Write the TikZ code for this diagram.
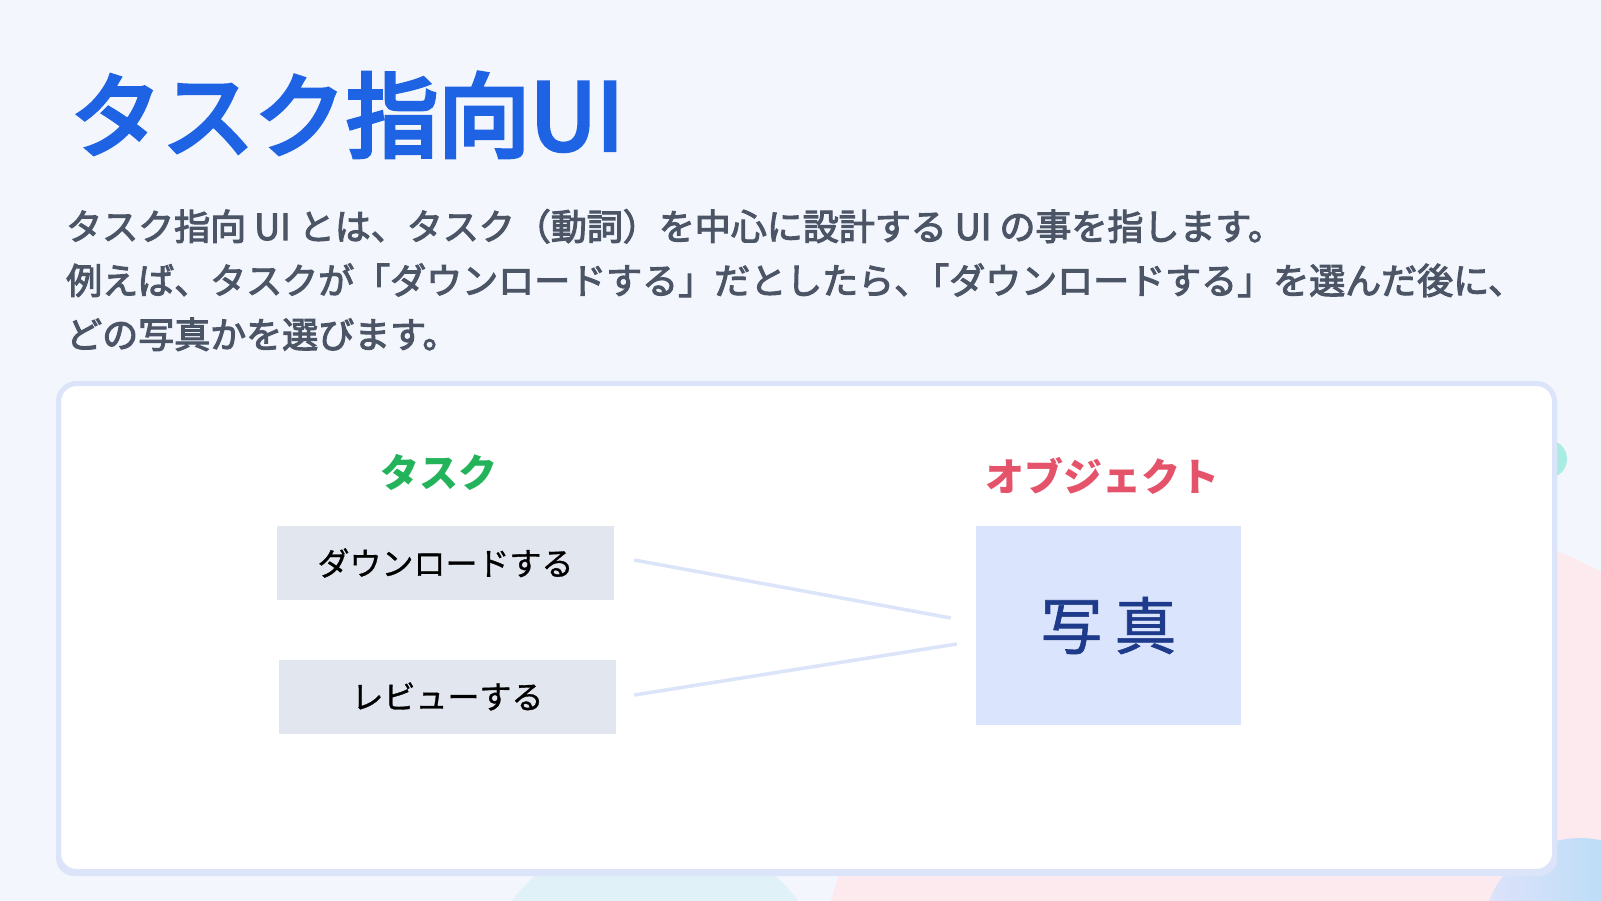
\documentclass[tikz,border=0pt]{standalone}
\usepackage{fontspec}
\newfontfamily\jp{Noto Sans CJK JP}
\newfontfamily\jptitle[FakeBold=4.5]{Noto Sans CJK JP}
\newfontfamily\jpmed[FakeBold=3]{Noto Sans CJK JP}
\newfontfamily\jplight[FakeBold=1]{Noto Sans CJK JP}
\usetikzlibrary{positioning}
\definecolor{bgc}{HTML}{F3F6FC}
\definecolor{titleblue}{HTML}{1D63E3}
\definecolor{bodygray}{HTML}{4B5566}
\definecolor{cardline}{HTML}{DCE4FA}
\definecolor{taskgreen}{HTML}{22B35B}
\definecolor{objred}{HTML}{E5536B}
\definecolor{taskfill}{HTML}{E2E6EF}
\definecolor{photofill}{HTML}{DBE4FD}
\definecolor{photoblue}{HTML}{1E3A8A}
\definecolor{pinkblob}{HTML}{FCEAEE}
\definecolor{tealblob}{HTML}{A8ECE4}
\definecolor{cyanblob}{HTML}{D8EFF5}
\definecolor{skyblob}{HTML}{A9D9F6}
\definecolor{lavblob}{HTML}{DEE3FA}
\tikzset{
  bodytext/.style={anchor=base west, inner sep=0pt, text=bodygray,
    font=\jpmed\fontsize{36}{42}\selectfont},
  taskbox/.style={fill=taskfill, draw=none, minimum width=337pt, minimum height=74pt,
    inner sep=0pt, font=\jplight\fontsize{32}{36}\selectfont, text=black},
  headlabel/.style={inner sep=0pt, font=\jp\bfseries\fontsize{39}{44}\selectfont},
  link/.style={draw=cardline, line width=3.5pt},
}
\begin{document}
\begin{tikzpicture}[x=1pt,y=-1pt]
\useasboundingbox (0,0) rectangle (1601,901);
\fill[bgc] (0,0) rectangle (1601,901);
% background decorations
\begin{scope}
\clip (0,0) rectangle (1601,901);
\fill[pinkblob] (1350,1050) circle[radius=540];
\fill[cyanblob, opacity=0.7] (655,1010) circle[radius=180];
\shade[left color=lavblob, right color=skyblob] (1580,935) circle[radius=97];
\fill[tealblob] (1548,459) circle[radius=19];
\end{scope}
% card
\fill[cardline, rounded corners=18pt] (56,384) rectangle (1557,876);
\draw[cardline, line width=5pt, fill=white, rounded corners=18pt] (58.5,383.5) rectangle (1554.5,871.5);
% title
\node[anchor=base west, inner sep=0pt, text=titleblue,
  font=\jptitle\fontsize{92}{100}\selectfont] (title) at (70,150) {タスク指向UI};
% body
\node[bodytext] (l1) at (66,240) {タスク指向 UI とは、タスク（動詞）を中心に設計する UI の事を指します。};
\node[bodytext] (l2) at (66,294) {例えば、タスクが「ダウンロードする」だとしたら、\kern-17pt「ダウンロードする」を選んだ後に、};
\node[bodytext] (l3) at (66,348) {どの写真かを選びます。};
% diagram
\node[headlabel, text=taskgreen] (tasklbl) at (439,472) {タスク};
\node[headlabel, text=objred] (objlbl) at (1102,476) {オブジェクト};
\node[taskbox] (dl) at (445.5,563) {ダウンロードする};
\node[taskbox] (rv) at (447.5,696.5) {レビューする};
\node[fill=photofill, minimum width=265pt, minimum height=199pt, inner sep=0pt,
  text=photoblue, font=\jplight\fontsize{62}{70}\selectfont] (photo) at (1108.5,625.5) {写\hspace{12pt}真};
\draw[link] ([xshift=20pt,yshift=3pt]dl.east) -- ([xshift=-25pt,yshift=7.5pt]photo.west);
\draw[link] ([xshift=18pt,yshift=1.5pt]rv.east) -- ([xshift=-19pt,yshift=-18.5pt]photo.west);
\end{tikzpicture}
\end{document}
